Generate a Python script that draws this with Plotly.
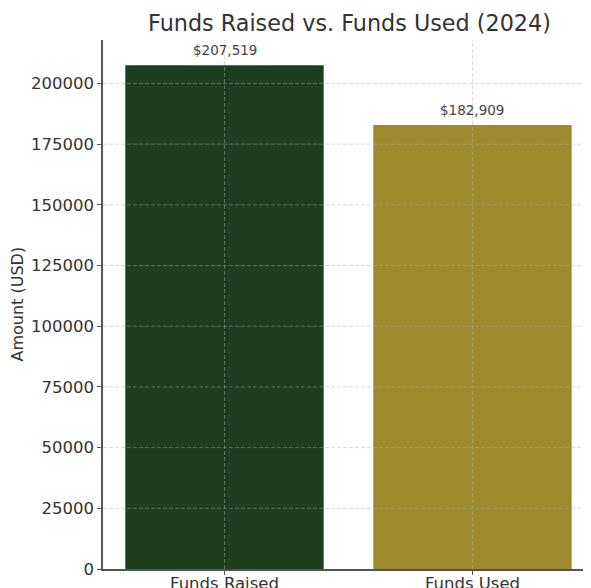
import plotly.graph_objects as go

categories = ["Funds Raised", "Funds Used"]
values = [207519, 182909]
bar_colors = ["#1d3f20", "#9c8a2c"]
y_ticks = [0, 25000, 50000, 75000, 100000, 125000, 150000, 175000, 200000]

FONT = "DejaVu Sans"
ymax = max(values) * 1.05
OFF = 8  # page body margin offset
W, H = 591, 588
L, R, T, B = 103 - OFF, OFF, 40 - OFF, 19 + OFF
plot_w = W - L - R

fig = go.Figure()
fig.add_trace(go.Bar(
    x=categories, y=values, marker=dict(color=bar_colors, line=dict(width=0)),
    width=0.8, showlegend=False, hoverinfo="skip",
))

grid_style = dict(color="rgba(175,175,175,0.5)", width=0.9, dash="4px,2px")
shapes = []
for t in y_ticks[1:]:
    shapes.append(dict(type="line", xref="paper", yref="y", x0=0, x1=1, y0=t, y1=t,
                       line=grid_style, layer="above"))
for c in categories:
    shapes.append(dict(type="line", xref="x", yref="paper", x0=c, x1=c, y0=0, y1=1,
                       line=grid_style, layer="above"))

annotations = []
for c, v in zip(categories, values):
    annotations.append(dict(x=c, y=v, text=f"${v:,}", showarrow=False, yshift=15,
                            yanchor="middle", font=dict(family=FONT, size=13.5, color="#444")))
annotations.append(dict(text="Amount (USD)", xref="paper", yref="paper",
                        x=(17 - OFF - L) / plot_w, y=0.5, xanchor="center", yanchor="middle",
                        textangle=-90, showarrow=False,
                        font=dict(family=FONT, size=16, color="#333")))

fig.update_layout(
    width=W, height=H,
    margin=dict(l=L, r=R, t=T, b=B, autoexpand=False),
    paper_bgcolor="white", plot_bgcolor="white",
    font=dict(family=FONT, color="#333"),
    title=dict(text="Funds Raised vs. Funds Used (2024)", x=(349.5 - OFF) / W, xanchor="center",
               y=1 - (23 - OFF) / H, yanchor="middle",
               font=dict(family=FONT, size=22.3, color="#333")),
    shapes=shapes, annotations=annotations,
    xaxis=dict(range=[-0.49, 1.478], showgrid=False, showline=True, linecolor="#555",
               linewidth=1.5, ticks="outside", ticklen=4, tickcolor="#555", automargin=False,
               ticklabelstandoff=-6,
               tickfont=dict(family=FONT, size=16.5, color="#333"), zeroline=False),
    yaxis=dict(range=[0, ymax], tickvals=y_ticks, ticktext=[str(t) for t in y_ticks],
               showgrid=False, showline=True, linecolor="#555", linewidth=1.5, automargin=False,
               ticks="outside", ticklen=4, tickcolor="#555", zeroline=False,
               tickfont=dict(family=FONT, size=16.5, color="#333")),
)

fig.write_html("out.html")
